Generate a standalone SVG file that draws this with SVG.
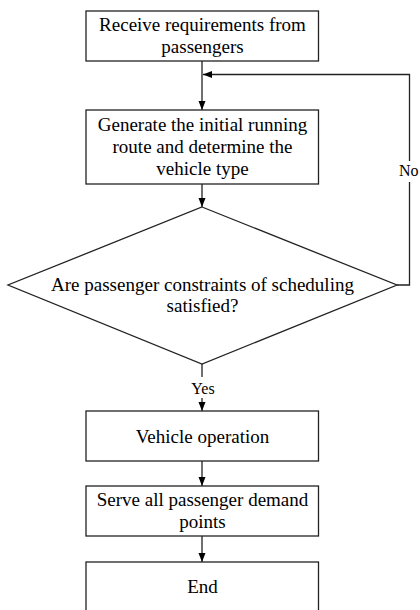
<svg xmlns="http://www.w3.org/2000/svg" width="420" height="610" viewBox="0 0 420 610">
<style>
.box{fill:#fff;stroke:#222;stroke-width:1.3}
.t{font-family:'Liberation Serif','DejaVu Serif',serif;font-size:19px;fill:#000;text-anchor:middle}
.lbl{font-family:'Liberation Serif','DejaVu Serif',serif;font-size:16px;fill:#000;text-anchor:middle}
.c{fill:none;stroke:#222;stroke-width:1.3}
</style>
<defs>
<marker id="ah" markerUnits="userSpaceOnUse" markerWidth="9" markerHeight="8" refX="9" refY="3.5" orient="auto">
<path d="M0,0 L9,3.5 L0,7 z" fill="#000"/>
</marker>
</defs>
<rect width="420" height="610" fill="#fff"/>
<g id="connectors">
<path class="c" d="M202,61 V110" marker-end="url(#ah)"/>
<path class="c" d="M397,285 H409.5 V74.5 H203" marker-end="url(#ah)"/>
<path class="c" d="M202,184 V207" marker-end="url(#ah)"/>
<path class="c" d="M202,364 V377"/>
<path class="c" d="M202,398 V411" marker-end="url(#ah)"/>
<path class="c" d="M202,461 V486" marker-end="url(#ah)"/>
<path class="c" d="M202,536 V562" marker-end="url(#ah)"/>
<g id="label-no">
<rect x="398" y="161" width="22" height="21" fill="#fff"/>
<text class="lbl" x="399" y="176" style="text-anchor:start">No</text>
</g>
<text id="label-yes" class="lbl" x="203" y="394">Yes</text>
</g>
<g id="n1">
<rect class="box" x="86" y="11" width="232.5" height="50"/>
<text class="t" x="202.5" y="31">Receive requirements from</text>
<text class="t" x="202.5" y="53">passengers</text>
</g>
<g id="n2">
<rect class="box" x="86" y="110" width="232.5" height="74"/>
<text class="t" x="202.5" y="131">Generate the initial running</text>
<text class="t" x="202.5" y="153">route and determine the</text>
<text class="t" x="202.5" y="175">vehicle type</text>
</g>
<g id="n3">
<polygon class="box" points="202,207 397,285 202,364 8,285"/>
<text class="t" x="202.5" y="291">Are passenger constraints of scheduling</text>
<text class="t" x="202.5" y="312">satisfied?</text>
</g>
<g id="n4">
<rect class="box" x="86" y="411" width="232.5" height="50"/>
<text class="t" x="202.5" y="443">Vehicle operation</text>
</g>
<g id="n5">
<rect class="box" x="86" y="486" width="232.5" height="50"/>
<text class="t" x="202.5" y="506">Serve all passenger demand</text>
<text class="t" x="202.5" y="528">points</text>
</g>
<g id="n6">
<rect class="box" x="86" y="562" width="232.5" height="60"/>
<text class="t" x="202.5" y="593">End</text>
</g>
</svg>
